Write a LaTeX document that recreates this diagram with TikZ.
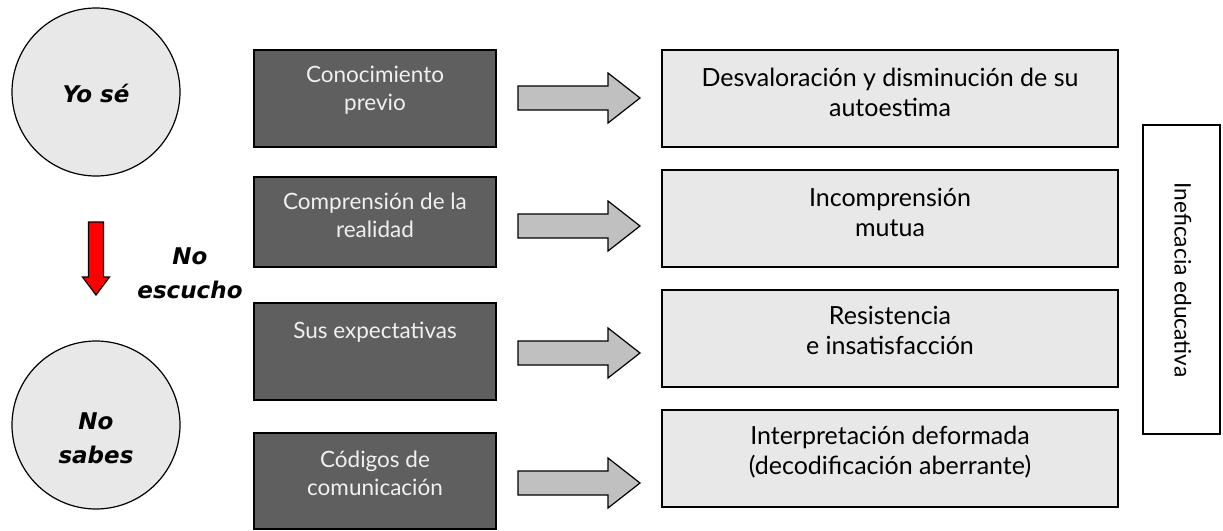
\documentclass[tikz,border=0pt]{standalone}
\usepackage{fontspec}
\setmainfont{Lato}
\newfontfamily\boldit{DejaVu Sans}[BoldItalicFont={DejaVu Sans Bold Oblique}]
\begin{document}
\begin{tikzpicture}[x=1pt,y=-1pt,
  every node/.style={inner sep=0pt,outer sep=0pt},
  darkbox/.style={draw=black,line width=1.5pt,fill=boxdark,rectangle,minimum width=242pt,anchor=north west},
  lightbox/.style={draw=black,line width=1.5pt,fill=boxlight,rectangle,minimum width=456pt,minimum height=97pt,anchor=north west},
  darktext/.style={anchor=north,align=center,text=white!94!black,font=\fontsize{22.5}{28}\selectfont},
  lighttext/.style={anchor=north,align=center,text=black,font=\fontsize{25}{30}\selectfont},
  circ/.style={draw=black,line width=1.2pt,fill=boxlight,circle,minimum size=168pt},
  bitext/.style={align=center,font=\boldit\bfseries\itshape\fontsize{23}{34}\selectfont},
  grayarrow/.style={draw=black,line width=1.2pt,fill=arrowgray},
  redarrow/.style={draw=black,line width=1.2pt,fill=red}
]
\definecolor{boxdark}{HTML}{5F5F5F}
\definecolor{boxlight}{HTML}{E8E8E8}
\definecolor{arrowgray}{HTML}{C0C0C0}
\useasboundingbox (0,0) rectangle (1223,530);

% circles
\node[circ] (c1) at (96,92) {};
\node[bitext] (t1) at (96,93) {Yo sé};
\node[circ] (c2) at (96,425) {};
\node[bitext] (t2) at (96,438) {No\\sabes};

% red arrow
\coordinate (ra) at (96,222);
\draw[redarrow] (ra) ++(-7.5,0) -- ++(15,0) -- ++(0,55) -- ++(6,0) -- ++(-13.5,18) -- ++(-13.5,-18) -- ++(6,0) -- cycle;
\node[bitext] (ne) at (190,273) {No\\escucho};

% dark boxes
\node[darkbox,minimum height=97pt] (d1) at (254,50) {};
\node[darkbox,minimum height=90pt] (d2) at (254,177) {};
\node[darkbox,minimum height=97pt] (d3) at (254,303) {};
\node[darkbox,minimum height=96pt] (d4) at (254,433) {};
\node[darktext] at ([yshift=-13]d1.north) {\strut Conocimiento\\previo};
\node[darktext] at ([yshift=-13]d2.north) {\strut Comprensión de la\\realidad};
\node[darktext] at ([yshift=-16]d3.north) {\strut Sus expectativas};
\node[darktext] at ([yshift=-15]d4.north) {\strut Códigos de\\comunicación};

% light boxes
\node[lightbox] (l1) at (662,50) {};
\node[lightbox] (l2) at (662,170) {};
\node[lightbox] (l3) at (662,290) {};
\node[lightbox] (l4) at (662,410) {};
\node[lighttext] at ([yshift=-15]l1.north) {\strut Desvaloración y disminución de su\\autoestima};
\node[lighttext] at ([yshift=-15]l2.north) {\strut Incomprensión\\mutua};
\node[lighttext] at ([yshift=-13]l3.north) {\strut Resistencia\\e insatisfacción};
\node[lighttext] at ([yshift=-13]l4.north) {\strut Interpretación deformada\\(decodificación aberrante)};

% gray arrows
\foreach \yy/\nm in {98/a1,226/a2,353/a3,483/a4}{
  \coordinate (\nm) at (518,\yy);
  \draw[grayarrow] (\nm) ++(0,-12) -- ++(90,0) -- ++(0,-13) -- ++(32,25) -- ++(-32,25) -- ++(0,-13) -- ++(-90,0) -- cycle;
}

% right box
\node[draw=black,line width=1.5pt,fill=white,rectangle,minimum width=77pt,minimum height=309pt,anchor=north west] (ie) at (1143,125) {};
\node[rotate=-90,font=\fontsize{22.7}{26}\selectfont] at (1183,280) {Ineficacia educativa};
\end{tikzpicture}
\end{document}
